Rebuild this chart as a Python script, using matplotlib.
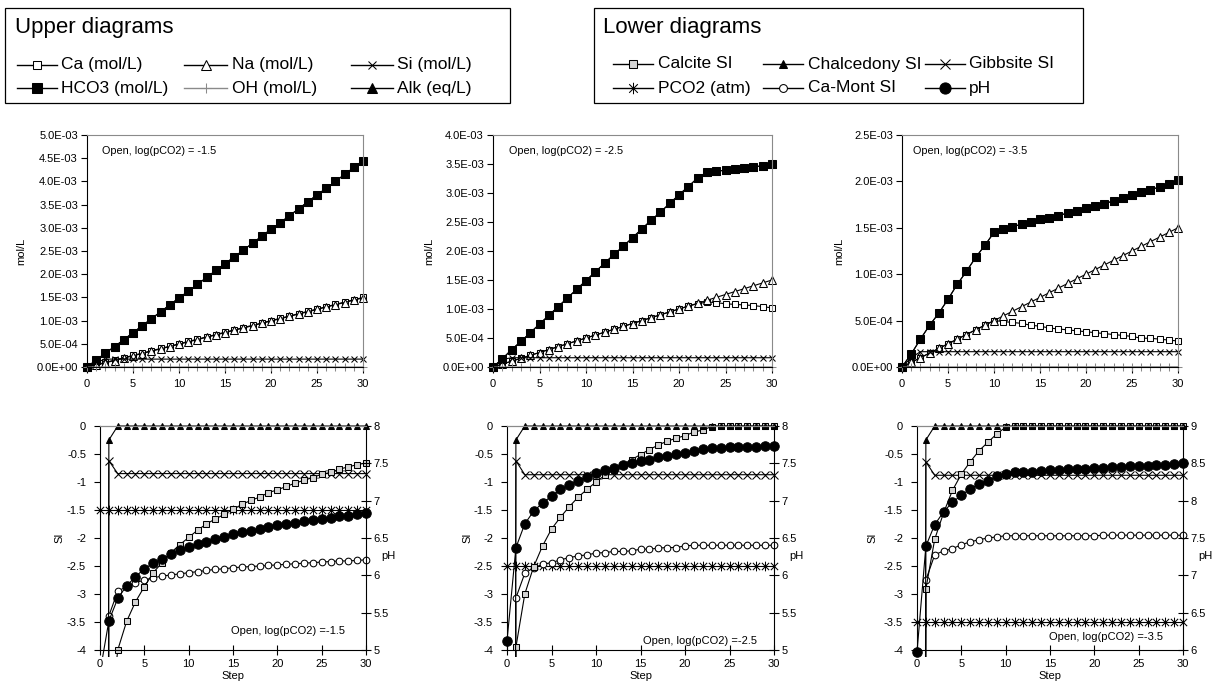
import numpy as np
import matplotlib.pyplot as plt
from matplotlib.lines import Line2D
from matplotlib.patches import Rectangle
from matplotlib.path import Path
from matplotlib.transforms import Bbox, TransformedBbox
from matplotlib.ticker import FuncFormatter, MultipleLocator

plt.rcParams['font.family'] = ['Liberation Sans', 'DejaVu Sans']
plt.rcParams['axes.unicode_minus'] = False

steps = list(range(31))
cases = ['-1.5', '-2.5', '-3.5']

# --- upper diagrams: concentrations in mmol/L -------------------------------
hco3_1 = [0.00, 0.15, 0.30, 0.44, 0.59, 0.74, 0.89, 1.04, 1.19, 1.34, 1.49, 1.63, 1.78, 1.93, 2.08, 2.23,
          2.37, 2.52, 2.67, 2.82, 2.97, 3.11, 3.26, 3.41, 3.56, 3.71, 3.85, 4.00, 4.15, 4.30, 4.45]
ca_1 = [0.00, 0.05, 0.10, 0.15, 0.20, 0.25, 0.30, 0.35, 0.40, 0.45, 0.50, 0.55, 0.60, 0.65, 0.70, 0.75,
        0.80, 0.85, 0.90, 0.95, 1.00, 1.05, 1.10, 1.15, 1.20, 1.25, 1.30, 1.35, 1.40, 1.45, 1.50]
na_1 = [0.00, 0.04, 0.09, 0.14, 0.19, 0.24, 0.29, 0.34, 0.39, 0.44, 0.49, 0.54, 0.59, 0.64, 0.69, 0.74,
        0.79, 0.84, 0.89, 0.94, 0.99, 1.04, 1.09, 1.14, 1.19, 1.24, 1.29, 1.34, 1.39, 1.44, 1.49]
si_1 = [0.00, 0.10, 0.17, 0.17, 0.17, 0.17, 0.17, 0.17, 0.17, 0.17, 0.17, 0.17, 0.17, 0.17, 0.17, 0.17,
        0.17, 0.17, 0.17, 0.17, 0.17, 0.17, 0.17, 0.17, 0.17, 0.17, 0.17, 0.17, 0.17, 0.17, 0.17]
oh_1 = [0.0000, 0.0000, 0.0000, 0.0000, 0.0000, 0.0000, 0.0000, 0.0000, 0.0000, 0.0000, 0.0000, 0.0000,
        0.0000, 0.0000, 0.0000, 0.0000, 0.0000, 0.0000, 0.0000, 0.0000, 0.0000, 0.0000, 0.0001, 0.0001,
        0.0001, 0.0001, 0.0001, 0.0001, 0.0001, 0.0001, 0.0001]

hco3_2 = [0.00, 0.14, 0.30, 0.44, 0.59, 0.74, 0.89, 1.04, 1.19, 1.34, 1.49, 1.64, 1.79, 1.94, 2.08, 2.23,
          2.38, 2.53, 2.67, 2.82, 2.97, 3.11, 3.26, 3.36, 3.38, 3.39, 3.41, 3.43, 3.45, 3.47, 3.50]
ca_2 = [0.00, 0.05, 0.10, 0.15, 0.20, 0.25, 0.30, 0.35, 0.40, 0.45, 0.50, 0.55, 0.60, 0.65, 0.70, 0.75,
        0.80, 0.85, 0.90, 0.95, 1.00, 1.05, 1.09, 1.12, 1.11, 1.09, 1.08, 1.07, 1.06, 1.04, 1.02]
na_2 = [0.00, 0.05, 0.10, 0.15, 0.20, 0.25, 0.30, 0.35, 0.40, 0.45, 0.50, 0.55, 0.60, 0.65, 0.70, 0.75,
        0.80, 0.85, 0.90, 0.95, 1.00, 1.05, 1.10, 1.15, 1.20, 1.25, 1.30, 1.35, 1.40, 1.45, 1.50]
si_2 = [0.00, 0.13, 0.16, 0.16, 0.16, 0.16, 0.16, 0.16, 0.16, 0.16, 0.16, 0.16, 0.16, 0.16, 0.16, 0.16,
        0.16, 0.16, 0.16, 0.16, 0.16, 0.16, 0.16, 0.16, 0.16, 0.16, 0.16, 0.16, 0.16, 0.16, 0.16]
oh_2 = [0.0000, 0.0000, 0.0000, 0.0001, 0.0001, 0.0001, 0.0001, 0.0002, 0.0002, 0.0002, 0.0002, 0.0003,
        0.0003, 0.0003, 0.0003, 0.0003, 0.0004, 0.0004, 0.0004, 0.0004, 0.0004, 0.0005, 0.0005, 0.0005,
        0.0005, 0.0005, 0.0005, 0.0005, 0.0005, 0.0005, 0.0005]

hco3_3 = [0.00, 0.14, 0.30, 0.45, 0.58, 0.73, 0.89, 1.03, 1.18, 1.31, 1.45, 1.49, 1.51, 1.54, 1.56, 1.59,
          1.61, 1.63, 1.66, 1.68, 1.71, 1.73, 1.76, 1.79, 1.82, 1.85, 1.89, 1.91, 1.94, 1.97, 2.01]
ca_3 = [0.00, 0.05, 0.10, 0.15, 0.20, 0.25, 0.30, 0.35, 0.40, 0.45, 0.50, 0.49, 0.48, 0.47, 0.45, 0.44,
        0.42, 0.41, 0.40, 0.39, 0.38, 0.37, 0.36, 0.35, 0.34, 0.33, 0.31, 0.31, 0.30, 0.29, 0.28]
na_3 = [0.00, 0.05, 0.10, 0.15, 0.20, 0.25, 0.30, 0.35, 0.40, 0.45, 0.50, 0.55, 0.60, 0.65, 0.70, 0.75,
        0.80, 0.85, 0.90, 0.95, 1.00, 1.05, 1.10, 1.15, 1.20, 1.25, 1.30, 1.35, 1.40, 1.45, 1.50]
si_3 = [0.00, 0.10, 0.165, 0.165, 0.165, 0.165, 0.165, 0.165, 0.165, 0.165, 0.165, 0.165, 0.165, 0.165,
        0.165, 0.165, 0.165, 0.165, 0.165, 0.165, 0.165, 0.165, 0.165, 0.165, 0.165, 0.165, 0.165, 0.165,
        0.165, 0.165, 0.165]
oh_3 = [0.0000, 0.0003, 0.0005, 0.0007, 0.0010, 0.0012, 0.0014, 0.0017, 0.0019, 0.0021, 0.0023, 0.0024,
        0.0025, 0.0025, 0.0025, 0.0026, 0.0026, 0.0026, 0.0026, 0.0027, 0.0028, 0.0028, 0.0028, 0.0028,
        0.0029, 0.0029, 0.0030, 0.0030, 0.0030, 0.0031, 0.0032]

# alkalinity sits on top of bicarbonate at these pH values
alk_1, alk_2, alk_3 = hco3_1, hco3_2, hco3_3

# --- lower diagrams: saturation indices, log pCO2 and pH ------------------
# step 0 is pure water: no Si/Al/Ca, so the SI is far off the scale
chalc_1 = [-100, -0.25, 0, 0, 0, 0, 0, 0, 0, 0, 0, 0, 0, 0, 0, 0, 0, 0, 0, 0, 0, 0, 0, 0, 0, 0, 0, 0, 0, 0, 0]
gibb_1 = [-100, -0.62, -0.85, -0.85, -0.85, -0.85, -0.85, -0.85, -0.85, -0.85, -0.85, -0.85, -0.85, -0.85,
          -0.85, -0.85, -0.85, -0.85, -0.85, -0.85, -0.85, -0.85, -0.85, -0.85, -0.85, -0.85, -0.85, -0.85,
          -0.85, -0.85, -0.85]
pco2_1 = [-1.5, -1.5, -1.5, -1.5, -1.5, -1.5, -1.5, -1.5, -1.5, -1.5, -1.5, -1.5, -1.5, -1.5, -1.5, -1.5,
          -1.5, -1.5, -1.5, -1.5, -1.5, -1.5, -1.5, -1.5, -1.5, -1.5, -1.5, -1.5, -1.5, -1.5, -1.5]
calcite_1 = [-100, -5.5, -4.00, -3.49, -3.14, -2.87, -2.62, -2.44, -2.26, -2.12, -1.99, -1.86, -1.75, -1.66,
             -1.58, -1.49, -1.40, -1.33, -1.27, -1.19, -1.14, -1.08, -1.02, -0.97, -0.92, -0.86, -0.83,
             -0.77, -0.73, -0.69, -0.66]
camont_1 = [-100, -3.39, -2.95, -2.87, -2.80, -2.75, -2.71, -2.68, -2.66, -2.64, -2.62, -2.60, -2.58, -2.56,
            -2.55, -2.53, -2.52, -2.51, -2.50, -2.49, -2.48, -2.47, -2.46, -2.45, -2.44, -2.43, -2.42,
            -2.41, -2.41, -2.40, -2.39]
ph_1 = [4.70, 5.39, 5.69, 5.86, 5.98, 6.09, 6.16, 6.22, 6.28, 6.34, 6.38, 6.42, 6.45, 6.49, 6.52, 6.55,
        6.58, 6.60, 6.62, 6.65, 6.67, 6.69, 6.70, 6.73, 6.74, 6.76, 6.77, 6.79, 6.79, 6.82, 6.83]

chalc_2 = [-100, -0.25, 0, 0, 0, 0, 0, 0, 0, 0, 0, 0, 0, 0, 0, 0, 0, 0, 0, 0, 0, 0, 0, 0, 0, 0, 0, 0, 0, 0, 0]
gibb_2 = [-100, -0.62, -0.87, -0.87, -0.87, -0.87, -0.87, -0.87, -0.87, -0.87, -0.87, -0.87, -0.87, -0.87,
          -0.87, -0.87, -0.87, -0.87, -0.87, -0.87, -0.87, -0.87, -0.87, -0.87, -0.87, -0.87, -0.87, -0.87,
          -0.87, -0.87, -0.87]
pco2_2 = [-2.5, -2.5, -2.5, -2.5, -2.5, -2.5, -2.5, -2.5, -2.5, -2.5, -2.5, -2.5, -2.5, -2.5, -2.5, -2.5,
          -2.5, -2.5, -2.5, -2.5, -2.5, -2.5, -2.5, -2.5, -2.5, -2.5, -2.5, -2.5, -2.5, -2.5, -2.5]
calcite_2 = [-100, -3.95, -3.00, -2.51, -2.14, -1.84, -1.63, -1.44, -1.27, -1.13, -1.00, -0.88, -0.79, -0.69,
             -0.60, -0.51, -0.42, -0.34, -0.27, -0.22, -0.17, -0.11, -0.07, -0.01, 0.00, 0.00, 0.00, 0.00,
             0.00, 0.00, 0.00]
camont_2 = [-100, -3.07, -2.63, -2.53, -2.47, -2.44, -2.39, -2.35, -2.32, -2.30, -2.27, -2.26, -2.24, -2.24,
            -2.23, -2.20, -2.20, -2.18, -2.17, -2.17, -2.14, -2.13, -2.13, -2.13, -2.13, -2.13, -2.13,
            -2.13, -2.13, -2.13, -2.13]
ph_2 = [5.12, 6.37, 6.69, 6.86, 6.97, 7.06, 7.15, 7.21, 7.27, 7.32, 7.37, 7.41, 7.44, 7.48, 7.51, 7.53,
        7.55, 7.58, 7.60, 7.62, 7.64, 7.66, 7.69, 7.71, 7.71, 7.72, 7.72, 7.72, 7.72, 7.73, 7.73]

chalc_3 = [-100, -0.25, 0, 0, 0, 0, 0, 0, 0, 0, 0, 0, 0, 0, 0, 0, 0, 0, 0, 0, 0, 0, 0, 0, 0, 0, 0, 0, 0, 0, 0]
gibb_3 = [-100, -0.64, -0.88, -0.88, -0.88, -0.88, -0.88, -0.88, -0.88, -0.88, -0.88, -0.88, -0.88, -0.88,
          -0.88, -0.88, -0.88, -0.88, -0.88, -0.88, -0.88, -0.88, -0.88, -0.88, -0.88, -0.88, -0.88, -0.88,
          -0.88, -0.88, -0.88]
pco2_3 = [-3.5, -3.5, -3.5, -3.5, -3.5, -3.5, -3.5, -3.5, -3.5, -3.5, -3.5, -3.5, -3.5, -3.5, -3.5, -3.5,
          -3.5, -3.5, -3.5, -3.5, -3.5, -3.5, -3.5, -3.5, -3.5, -3.5, -3.5, -3.5, -3.5, -3.5, -3.5]
calcite_3 = [-100, -2.91, -2.02, -1.55, -1.15, -0.86, -0.64, -0.44, -0.29, -0.14, -0.02, 0, 0, 0, 0, 0,
             0, 0, 0, 0, 0, 0, 0, 0, 0, 0, 0, 0, 0, 0, 0]
camont_3 = [-100, -2.75, -2.30, -2.23, -2.19, -2.12, -2.07, -2.03, -2.00, -1.98, -1.96, -1.96, -1.96, -1.96,
            -1.96, -1.96, -1.96, -1.96, -1.96, -1.96, -1.96, -1.95, -1.95, -1.95, -1.95, -1.95, -1.95,
            -1.95, -1.95, -1.95, -1.95]
ph_3 = [5.97, 7.39, 7.68, 7.85, 7.98, 8.07, 8.16, 8.22, 8.27, 8.33, 8.36, 8.38, 8.39, 8.39, 8.40, 8.41,
        8.41, 8.42, 8.42, 8.43, 8.44, 8.44, 8.45, 8.45, 8.46, 8.46, 8.47, 8.48, 8.48, 8.49, 8.50]

upper_top = [5.0, 4.0, 2.5]        # y-axis maximum, mmol/L
ph_bottom = [5, 5, 6]              # pH axis minimum

# --- styles -----------------------------------------------------------------
ASTERISK = Path([(0, -1), (0, 1), (-0.75, -0.75), (0.75, 0.75), (-0.75, 0.75), (0.75, -0.75)],
                [Path.MOVETO, Path.LINETO] * 3)
GRAY = '#8a8a8a'
base = dict(color='black', lw=0.8, mec='black', mew=0.75)
STY = {
    'ca': dict(base, marker='s', ms=5, mfc='white'),
    'na': dict(base, marker='^', ms=5.5, mfc='white'),
    'si': dict(base, marker='x', ms=5, mfc='none'),
    'hco3': dict(base, marker='s', ms=5.6, mfc='black'),
    'oh': dict(color=GRAY, lw=0.8, mec=GRAY, mew=0.75, marker='+', ms=6),
    'alk': dict(base, marker='^', ms=5.5, mfc='black'),
    'calcite': dict(base, marker='s', ms=5, mfc='#d4d4d4'),
    'chalc': dict(base, marker='^', ms=5, mfc='black'),
    'gibb': dict(base, marker='x', ms=6, mfc='none'),
    'pco2': dict(base, marker=ASTERISK, ms=7, mfc='none'),
    'camont': dict(base, marker='o', ms=4.8, mfc='white'),
    'ph': dict(base, marker='o', ms=6.8, mfc='black'),
}

W, H = 1219, 685
fig = plt.figure(figsize=(W / 100, H / 100), dpi=100)


def box(left, top, right, bottom):
    return [left / W, 1 - bottom / H, (right - left) / W, (bottom - top) / H]


def loose_clip(ax, lines, pad=0.03):
    # markers sitting on the frame stay whole, off-scale points stay hidden
    clip = TransformedBbox(Bbox([[-pad, -pad], [1 + pad, 1 + pad]]), ax.transAxes)
    for ln in lines:
        ln.set_clip_path(None)
        ln.set_clip_box(clip)


def mmol(v):
    return np.asarray(v) * 1e-3


# --- upper panels -----------------------------------------------------------
upper_data = [(hco3_1, ca_1, na_1, si_1, oh_1, alk_1),
              (hco3_2, ca_2, na_2, si_2, oh_2, alk_2),
              (hco3_3, ca_3, na_3, si_3, oh_3, alk_3)]
upper_boxes = [(87, 135, 363, 367), (493, 135, 772, 367), (902, 135, 1178, 367)]
upper_text_x = [0.055, 0.057, 0.040]
mol_label_x = [-0.22, -0.21, -0.21]

for i, (hco3, ca, na, si, oh, alk) in enumerate(upper_data):
    ax = fig.add_axes(box(*upper_boxes[i]))
    lines = []
    lines += ax.plot(steps, mmol(alk), **STY['alk'])
    lines += ax.plot(steps, mmol(ca), **STY['ca'])
    lines += ax.plot(steps, mmol(na), **STY['na'])
    lines += ax.plot(steps, mmol(si), **STY['si'])
    lines += ax.plot(steps, mmol(hco3), **STY['hco3'])
    lines += ax.plot(steps, mmol(oh), **STY['oh'])
    loose_clip(ax, lines)

    ax.set_xlim(0, 30)
    ax.set_ylim(0, upper_top[i] * 1e-3)
    ax.xaxis.set_major_locator(MultipleLocator(5))
    ax.yaxis.set_major_locator(MultipleLocator(0.5e-3))
    ax.yaxis.set_major_formatter(FuncFormatter(lambda v, p: f'{v:.1E}'))
    ax.tick_params(direction='out', length=4, width=0.8, labelsize=8)
    ax.tick_params(axis='y', pad=2.5)
    ax.tick_params(axis='x', pad=4.5)
    for side in ['top', 'right']:
        ax.spines[side].set_color(GRAY)
    for sp in ax.spines.values():
        sp.set_linewidth(0.8)
    ax.set_ylabel('mol/L', fontsize=8)
    ax.yaxis.set_label_coords(mol_label_x[i], 0.5)
    ax.text(upper_text_x[i], 0.93, f'Open, log(pCO2) = {cases[i]}', transform=ax.transAxes,
            fontsize=7.8, va='center', ha='left')

# --- lower panels -----------------------------------------------------------
lower_data = [(calcite_1, chalc_1, gibb_1, pco2_1, camont_1, ph_1),
              (calcite_2, chalc_2, gibb_2, pco2_2, camont_2, ph_2),
              (calcite_3, chalc_3, gibb_3, pco2_3, camont_3, ph_3)]
lower_boxes = [(100, 426, 366, 650), (507, 426, 774, 650), (917, 426, 1183, 650)]
lower_text_xy = [(0.92, 0.085), (0.935, 0.04), (0.925, 0.058)]
si_label_x = [-0.135, -0.13, -0.147]

for i, (calcite, chalc, gibb, pco2, camont, ph) in enumerate(lower_data):
    ax = fig.add_axes(box(*lower_boxes[i]))
    ax2 = ax.twinx()
    lines = []
    lines += ax.plot(steps, pco2, **STY['pco2'])
    lines += ax.plot(steps, gibb, **STY['gibb'])
    lines += ax.plot(steps, camont, **STY['camont'])
    lines += ax.plot(steps, calcite, **STY['calcite'])
    lines += ax.plot(steps, chalc, **STY['chalc'])
    loose_clip(ax, lines)
    loose_clip(ax2, ax2.plot(steps, ph, **STY['ph']))

    ax.set_xlim(0, 30)
    ax.set_ylim(-4, 0)
    ax2.set_ylim(ph_bottom[i], ph_bottom[i] + 3)
    ax.xaxis.set_major_locator(MultipleLocator(5))
    ax.yaxis.set_major_locator(MultipleLocator(0.5))
    ax2.yaxis.set_major_locator(MultipleLocator(0.5))
    ax.yaxis.set_major_formatter(FuncFormatter(lambda v, p: '0' if abs(v) < 1e-9 else f'{v:g}'))
    ax2.yaxis.set_major_formatter(FuncFormatter(lambda v, p: f'{v:g}'))
    ax.tick_params(axis='y', direction='out', length=4, width=0.8, labelsize=8, pad=6)
    ax.tick_params(axis='x', direction='inout', length=7, width=0.8, labelsize=8, pad=3)
    ax2.tick_params(axis='y', direction='inout', length=7, width=0.8, labelsize=8, pad=2)

    ax.spines['right'].set_visible(False)
    ax.spines['top'].set_color(GRAY)
    for side in ['left', 'bottom']:
        ax2.spines[side].set_visible(False)
    ax2.spines['top'].set_color(GRAY)
    for sp in list(ax.spines.values()) + list(ax2.spines.values()):
        sp.set_linewidth(0.8)

    ax.set_xlabel('Step', fontsize=8, labelpad=1.5)
    ax.set_ylabel('SI', fontsize=8)
    ax.yaxis.set_label_coords(si_label_x[i], 0.5)
    ax2.set_ylabel('pH', fontsize=8, rotation=0, va='center', ha='center')
    ax2.yaxis.set_label_coords(1.085, 0.42)
    tx, ty = lower_text_xy[i]
    ax.text(tx, ty, f'Open, log(pCO2) =-{cases[i][1:]}', transform=ax.transAxes,
            fontsize=8, va='center', ha='right')


# --- legend boxes ------------------------------------------------------------
def fig_xy(x, y):
    return x / W, 1 - y / H


def legend_box(left, top, right, bottom, title, title_x, title_y, entries, cols, rows):
    fig.add_artist(Rectangle(fig_xy(left, bottom), (right - left) / W, (bottom - top) / H,
                             transform=fig.transFigure, fill=False, ec='black', lw=0.9))
    fig.text(*fig_xy(title_x, title_y), title, fontsize=16, va='center', ha='left')
    for key, label, c, r in entries:
        x0, x1, xl = cols[c]
        y = rows[r]
        style = dict(STY[key])
        style['ms'] = style['ms'] * 1.18
        style['lw'] = 1.0
        (fx0, fy), (fx1, _) = fig_xy(x0, y), fig_xy(x1, y)
        fig.add_artist(Line2D([fx0, (fx0 + fx1) / 2, fx1], [fy, fy, fy], markevery=[1],
                              transform=fig.transFigure, **style))
        fig.text(*fig_xy(xl, y), label, fontsize=12.5, va='center', ha='left')


legend_box(5, 8, 510, 103, 'Upper diagrams', 15, 27,
           [('ca', 'Ca (mol/L)', 0, 0), ('na', 'Na (mol/L)', 1, 0), ('si', 'Si (mol/L)', 2, 0),
            ('hco3', 'HCO3 (mol/L)', 0, 1), ('oh', 'OH (mol/L)', 1, 1), ('alk', 'Alk (eq/L)', 2, 1)],
           [(17, 57, 61), (184, 227, 232), (351, 393, 397)], [65, 88])

legend_box(594, 8, 1083, 103, 'Lower diagrams', 603, 28,
           [('calcite', 'Calcite SI', 0, 0), ('chalc', 'Chalcedony SI', 1, 0),
            ('gibb', 'Gibbsite SI', 2, 0), ('pco2', 'PCO2 (atm)', 0, 1),
            ('camont', 'Ca-Mont SI', 1, 1), ('ph', 'pH', 2, 1)],
           [(613, 653, 658), (763, 803, 808), (925, 965, 969)], [64, 88])

fig.savefig('out.png', dpi=100)
